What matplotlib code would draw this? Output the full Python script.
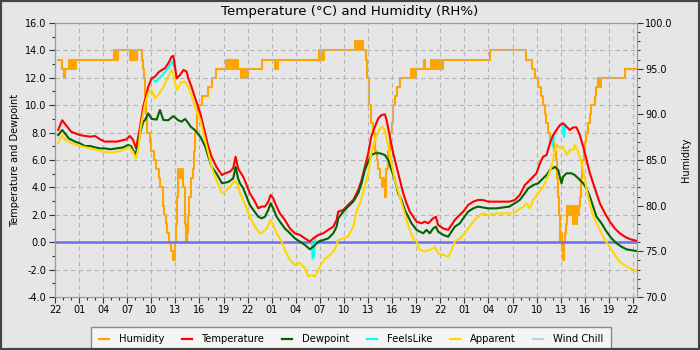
import matplotlib
matplotlib.use("Agg")
import matplotlib.pyplot as plt
from matplotlib.ticker import MultipleLocator, FormatStrFormatter
from matplotlib.patches import Rectangle
from matplotlib.lines import Line2D
import numpy as np

# x axis is hours since 22:00 on the first day
hour_ticks = list(range(0, 73, 3))
hour_labels = ["22", "01", "04", "07", "10", "13", "16", "19"] * 3 + ["22"]

temp_hours = [0.4, 0.9, 1.3, 2.0, 3.1, 3.8, 4.4, 5.0, 5.6, 6.2, 7.0, 7.7, 8.5, 8.9, 9.3, 9.7,
              10.1, 10.6, 11.0, 11.3, 11.62, 12.04, 12.45, 12.9, 13.3, 13.7, 14.1, 14.53, 14.74,
              14.95, 15.15, 15.57, 16.0, 16.4, 16.6, 17.0, 17.4, 18.1, 18.5, 19.1, 19.5, 20.1,
              20.8, 21.2, 21.8, 22.2, 22.5, 22.8, 23.04, 23.45, 23.87, 24.28, 24.9, 25.32, 25.74,
              26.15, 26.57, 26.86, 27.19, 27.6, 28.02, 28.64, 29.27, 29.89, 30.51, 31.13, 31.76,
              32.17, 32.8, 33.42, 34.04, 34.66, 35.08, 35.28, 35.9, 36.5, 37.15, 37.77, 38.19,
              38.6, 39.02, 39.4, 39.85, 40.27, 40.68, 41.1, 41.3, 41.72, 42.13, 42.55, 42.96,
              43.38, 43.79, 44.2, 44.62, 45.04, 45.66, 46.07, 46.49, 46.9, 47.1, 47.45, 47.73,
              48.36, 48.98, 49.4, 49.8, 50.2, 50.85, 51.47, 52.1, 52.7, 53.3, 53.96, 55.0, 55.8,
              56.6, 57.28, 57.9, 58.53, 58.95, 59.57, 59.98, 60.4, 60.8, 61.23, 61.64, 62.06,
              62.47, 62.9, 63.3, 63.72, 64.13, 64.55, 64.96, 65.38, 65.8, 66.21, 66.63, 67.04,
              67.46, 67.87, 68.5, 69.12, 69.74, 70.36, 70.99, 71.6, 72.35]
temp_c = [8.2, 8.9, 8.6, 8.07, 7.82, 7.75, 7.7, 7.75, 7.51, 7.34, 7.35, 7.34, 7.45, 7.51, 7.75, 7.5,
          6.85, 8.43, 9.9, 10.6, 11.35, 11.96, 12.08, 12.4, 12.57, 12.7, 13.05, 13.54, 13.6,
          12.8, 11.96, 12.2, 12.57, 12.45, 11.96, 11.35, 10.62, 9.4, 8.43, 6.97, 6.24, 5.51,
          4.9, 5.03, 5.15, 5.4, 6.24, 5.4, 5.15, 4.78, 4.17, 3.57, 2.96, 2.47, 2.6,
          2.6, 2.96, 3.45, 3.2, 2.6, 2.1, 1.62, 1.0, 0.65, 0.53, 0.28, 0.04,
          0.28, 0.53, 0.65, 0.9, 1.13, 1.62, 2.23, 2.35, 2.72, 3.08, 3.81, 4.54,
          5.51, 6.49, 7.7, 8.43, 9.04, 9.28, 9.33, 8.92, 7.7, 6.49, 5.51, 4.54,
          3.57, 2.84, 2.23, 1.86, 1.5, 1.38, 1.5, 1.38, 1.62, 1.74, 1.86, 1.26,
          1.0, 0.9, 1.26, 1.62, 1.86, 2.23, 2.72, 2.96, 3.08, 3.08, 2.96, 2.96, 2.96,
          2.96, 3.08, 3.45, 4.17, 4.42, 4.78, 5.03, 5.76, 6.24, 6.36, 7.2, 7.82,
          8.19, 8.55, 8.68, 8.43, 8.19, 8.38, 8.38, 7.82, 6.97, 6.0, 5.03, 4.3,
          3.57, 2.84, 2.11, 1.5, 1.0, 0.65, 0.4, 0.23, 0.11]

dew_hours = [0.4, 0.9, 1.3, 1.7, 2.1, 2.5, 3.1, 3.7, 4.4, 5.0, 5.6, 6.2, 6.9, 7.7, 8.5, 9.1, 9.5,
             10.0, 10.3, 10.6, 11.0, 11.2, 11.62, 12.04, 12.66, 13.07, 13.5, 14.1, 14.74, 15.36,
             15.77, 16.2, 16.6, 16.9, 17.4, 18.1, 18.7, 19.1, 19.5, 20.1, 20.8, 21.6, 22.2, 22.5,
             22.8, 23.04, 23.45, 23.87, 24.28, 24.9, 25.32, 25.74, 26.15, 26.57, 26.86, 27.19,
             27.6, 28.02, 28.64, 29.27, 29.89, 30.51, 31.13, 31.76, 32.17, 32.8, 33.42, 34.04,
             34.66, 35.08, 35.28, 35.9, 36.5, 37.15, 37.77, 38.19, 38.6, 39.02, 39.4, 39.85,
             40.5, 41.1, 41.51, 41.93, 42.34, 42.75, 43.17, 43.58, 44.0, 44.41, 45.04, 45.45,
             45.87, 46.28, 46.7, 47.1, 47.45, 47.73, 48.36, 48.98, 49.4, 49.8, 50.44, 50.85,
             51.47, 52.1, 52.7, 53.96, 55.0, 56.6, 57.28, 57.9, 58.53, 58.94, 59.57, 60.19,
             60.8, 61.23, 61.64, 62.27, 62.68, 63.1, 63.3, 63.72, 64.34, 64.76, 65.17, 65.8,
             66.21, 66.63, 67.04, 67.46, 68.08, 68.7, 69.33, 69.95, 70.57, 71.19, 72.35]
dew_c = [7.82, 8.19, 7.9, 7.58, 7.46, 7.34, 7.22, 7.02, 7.02, 6.92, 6.85, 6.85, 6.78, 6.85, 6.92, 7.1, 7.0,
         6.36, 7.0, 7.95, 8.8, 8.9, 9.4, 9.0, 8.95, 9.65, 8.92, 8.9, 9.2, 8.9,
         8.8, 9.0, 8.7, 8.43, 8.2, 7.7, 7.0, 6.24, 5.5, 5.03, 4.3, 4.4, 4.66, 5.5,
         4.66, 4.3, 3.93, 3.32, 2.7, 2.2, 1.86, 1.74, 1.86, 2.35, 2.84, 2.47,
         1.86, 1.5, 1.0, 0.65, 0.28, 0.04, -0.2, -0.52, -0.33, 0.04, 0.16, 0.28,
         0.65, 1.13, 1.74, 2.23, 2.6, 2.96, 3.57, 4.3, 5.27, 5.88, 6.36, 6.49,
         6.49, 6.36, 6.0, 5.27, 4.54, 3.57, 3.08, 2.35, 1.86, 1.38, 0.9, 0.77,
         0.65, 0.9, 0.65, 1.0, 1.13, 0.77, 0.53, 0.4, 0.77, 1.13, 1.38, 1.74,
         2.23, 2.47, 2.6, 2.47, 2.47, 2.6, 2.84, 3.08, 3.57, 3.93, 4.17, 4.3,
         4.66, 4.9, 5.27, 5.5, 5.27, 4.3, 4.78, 5.03, 5.03, 4.9, 4.66, 4.3,
         3.93, 3.32, 2.6, 1.86, 1.38, 0.77, 0.28, -0.08, -0.33, -0.52, -0.64]

app_hours = [0.4, 0.9, 1.3, 1.7, 2.1, 2.7, 3.5, 4.4, 5.2, 6.0, 6.9, 7.7, 8.5, 9.25, 9.7, 10.1, 10.4,
             10.7, 11.0, 11.21, 11.62, 12.04, 12.45, 12.87, 13.5, 14.1, 14.53, 14.74, 15.15, 15.77,
             16.2, 16.6, 17.0, 17.4, 18.1, 18.7, 19.1, 19.5, 20.1, 20.8, 21.4, 21.8, 22.4, 22.8,
             23.04, 23.45, 23.87, 24.28, 24.9, 25.53, 25.94, 26.36, 26.86, 27.19, 27.6, 28.23,
             28.64, 29.27, 29.89, 30.51, 31.13, 31.55, 31.97, 32.38, 33.0, 33.62, 34.25, 34.87,
             35.28, 35.9, 36.5, 37.15, 37.56, 37.98, 38.6, 39.02, 39.4, 39.85, 40.27, 40.68,
             41.1, 41.51, 41.93, 42.34, 42.96, 43.38, 43.79, 44.2, 44.62, 45.04, 45.45, 46.07,
             46.7, 47.1, 47.3, 47.73, 48.36, 48.98, 49.4, 49.8, 50.44, 50.85, 51.47, 52.1, 52.7,
             53.3, 53.96, 55.0, 57.08, 57.7, 58.3, 58.73, 58.94, 59.15, 59.57, 60.19, 60.8, 61.4,
             61.85, 62.27, 62.47, 62.9, 63.3, 63.72, 64.13, 64.55, 64.76, 65.17, 65.59, 66.0,
             66.42, 66.83, 67.25, 67.87, 68.5, 69.12, 69.74, 70.36, 70.99, 71.6, 72.35]
app_c = [7.22, 7.82, 7.46, 7.34, 7.22, 7.1, 6.97, 6.85, 6.73, 6.6, 6.53, 6.6, 6.73, 6.97, 6.6, 6.12, 6.9,
         8.43, 9.4, 10.1, 10.9, 11.1, 10.5, 10.74, 11.35, 12.08, 12.57, 12.3, 11.1, 11.7,
         11.7, 11.35, 10.74, 9.9, 8.9, 7.46, 6.5, 5.5, 4.54, 3.57, 3.8, 4.05, 4.5, 4.2,
         3.57, 3.08, 2.47, 1.86, 1.13, 0.65, 0.77, 1.0, 1.62, 1.26, 0.65, 0.04,
         -0.57, -1.3, -1.66, -1.54, -1.9, -2.5, -2.4, -2.5, -1.8, -1.2, -0.93, -0.5,
         0.16, 0.28, 0.4, 1.13, 2.23, 2.84, 4.05, 5.03, 6.49, 7.46, 8.07, 8.43,
         8.19, 6.97, 5.76, 4.54, 3.32, 2.47, 1.62, 0.9, 0.28, 0.04, -0.57, -0.67,
         -0.57, -0.45, -0.33, -0.81, -0.93, -1.06, -0.57, 0.04, 0.28, 0.53, 1.0, 1.5, 1.86,
         2.1, 1.99, 2.1, 2.1, 2.35, 2.6, 2.84, 2.7, 2.47, 3.08, 3.57, 4.05, 4.78,
         5.51, 6.73, 7.09, 6.85, 6.97, 6.36, 6.73, 6.73, 7.09, 6.6, 5.76, 4.54,
         3.32, 2.35, 1.62, 0.9, 0.16, -0.33, -0.93, -1.42, -1.7, -1.9, -2.08]

# feels-like only departs from the air temperature in a few short spells
feels_hours = [12.2, 12.6, 13.0, 13.4, 13.8, 14.2, 14.6, 14.9, np.nan,
               31.8, 32.0, 32.1, 32.25, 32.4, np.nan,
               61.8, 62.0, 62.2, np.nan, 63.2, 63.4, 63.55]
feels_c = [11.9, 11.7, 12.0, 12.2, 12.5, 12.8, 13.2, 12.7, np.nan,
           0.1, 0.0, -1.2, -1.0, 0.2, np.nan,
           7.6, 7.0, 7.9, np.nan, 8.6, 7.7, 8.5]

chill_hours = [35.9, 36.1, 36.3, np.nan, 59.2, 59.4, 59.6]
chill_c = [2.2, 1.8, 2.3, np.nan, 4.6, 4.4, 4.8]

hum_hours = [0.35, 0.83, 1.1, 1.25, 1.78, 1.95, 2.1, 2.25, 2.4, 2.5, 2.6,
             7.35, 7.5, 7.65, 7.8, 7.9, 9.34, 9.5, 9.65, 9.8, 9.95, 10.17,
             10.85, 10.95, 11.05, 11.15, 11.25, 11.35, 11.45, 11.6, 11.8, 12.0, 12.3, 12.6,
             12.9, 13.1, 13.4, 13.6, 13.8, 14.0, 14.2, 14.45, 14.7, 14.95, 15.1, 15.25,
             15.36, 15.6, 15.8, 16.0, 16.15, 16.3, 16.5, 16.6, 16.75, 17.0, 17.2, 17.35,
             17.5, 17.7, 17.85, 18.3, 19.0, 19.5, 20.1, 21.3, 21.45, 21.6, 21.75, 21.9,
             22.1, 22.3, 22.5, 22.65, 22.8, 23.2, 23.35, 23.5, 23.65, 23.8, 24.0, 25.8,
             27.36, 27.5, 27.65, 27.8, 28.0, 32.9, 33.05, 33.2, 33.35, 33.5,
             37.36, 37.5, 37.65, 37.8, 37.95, 38.1, 38.25, 38.4, 38.7, 38.9, 39.15, 39.36,
             39.57, 39.85, 40.06, 40.27, 40.48, 40.68, 40.9, 41.0, 41.1, 41.25, 41.5, 41.72,
             41.93, 42.13, 42.34, 42.55, 42.96, 44.4, 44.5, 44.6, 44.7, 44.8, 44.9, 45.0,
             46.0, 46.15, 46.9, 47.0, 47.1, 47.25, 47.4, 47.55, 47.7, 47.9, 48.05, 48.2,
             48.35, 54.25, 58.7, 59.4, 59.8, 60.2, 60.5, 60.8, 61.0, 61.2, 61.4, 61.7, 62.1,
             62.4, 62.55, 62.65, 62.75, 62.85, 62.95, 63.1, 63.25, 63.4, 63.55, 63.7, 63.8,
             63.95, 64.05, 64.2, 64.35, 64.5, 64.6, 64.8, 64.9, 65.0, 65.15, 65.3, 65.38,
             65.5, 65.67, 65.84, 66.0, 66.2, 66.4, 66.62, 66.8, 67.25, 67.45, 67.6, 67.7,
             67.8, 67.9, 68.0, 70.98, 72.35]
hum_pct = [96, 95, 94, 95, 96, 95, 96, 95, 96, 95, 96,
           97, 96, 97, 96, 97, 96, 97, 96, 97, 96, 97,
           96, 95, 94, 93, 92, 90, 88, 88, 87, 86, 85, 84,
           83, 82, 80, 79, 78, 77, 76, 75, 74, 76, 78, 81,
           84, 83, 84, 82, 78, 76, 77, 79, 81, 83, 84, 86,
           88, 90, 91, 92, 93, 94, 95, 96, 95, 96, 95, 96,
           95, 96, 95, 96, 95, 94, 95, 94, 95, 94, 95, 96,
           95, 96, 95, 96, 96, 97, 96, 97, 96, 97,
           98, 97, 98, 97, 98, 97, 98, 97, 96, 94, 91, 89,
           88, 86, 85, 84, 83, 82, 83, 82, 81, 84, 86, 88,
           89, 91, 92, 93, 94, 95, 94, 95, 94, 95, 94, 95,
           96, 95, 96, 95, 96, 95, 96, 95, 96, 95, 96, 95,
           96, 97, 96, 95, 94, 93, 92, 91, 90, 89, 88, 87, 86,
           85, 83, 81, 79, 76, 77, 75, 74, 76, 77, 78, 80,
           79, 80, 79, 80, 78, 80, 79, 78, 80, 79, 80, 81,
           83, 85, 86, 87, 88, 89, 90, 91, 92, 93, 94, 93,
           94, 93, 94, 95, 95]

bg = "#e6e6e6"
fig = plt.figure(figsize=(7, 3.5), dpi=100, facecolor=bg)
ax = fig.add_axes([55 / 700, 53 / 350, 582 / 700, 274 / 350])
ax2 = ax.twinx()
# humidity sits underneath the temperature traces
ax.set_zorder(ax2.get_zorder() + 1)
ax.patch.set_visible(False)
ax2.patch.set_facecolor(bg)

ax2.step(hum_hours, hum_pct, where="post", color="#ffa500", lw=1.5)
ax.axhline(0, color="#6e6ee8", lw=1.8, zorder=2)
ax.plot(chill_hours, chill_c, color="#add8e6", lw=1.5, zorder=2.5)
ax.plot(feels_hours, feels_c, color="#00ffff", lw=1.5, zorder=2.5)
ax.plot(temp_hours, temp_c, color="#ff0000", lw=1.5, zorder=3)
ax.plot(dew_hours, dew_c, color="#006400", lw=1.5, zorder=3)
ax.plot(app_hours, app_c, color="#ffd700", lw=1.5, zorder=3)

ax.set_xlim(0, 72.5)
ax.set_ylim(-4, 16)
ax2.set_ylim(70, 100)
ax.set_xticks(hour_ticks)
ax.set_xticklabels(hour_labels)
ax.xaxis.set_minor_locator(MultipleLocator(1))
ax.yaxis.set_major_locator(MultipleLocator(2))
ax.yaxis.set_minor_locator(MultipleLocator(1))
ax.yaxis.set_major_formatter(FormatStrFormatter("%.1f"))
ax2.yaxis.set_major_locator(MultipleLocator(5))
ax2.yaxis.set_minor_locator(MultipleLocator(1))
ax2.yaxis.set_major_formatter(FormatStrFormatter("%.1f"))
ax.grid(True, which="major", color="#b4b4b4", ls=(0, (4, 3)), lw=0.8)

for a in (ax, ax2):
    a.tick_params(which="major", length=4, width=0.8, color="#333333", labelsize=7, pad=2)
    a.tick_params(which="minor", length=2, width=0.8, color="#333333")
    for s in a.spines.values():
        s.set_color("#9a9a9a")

ax.set_ylabel("Temperature and Dewpoint", fontsize=7, labelpad=4)
ax2.set_ylabel("Humidity", fontsize=7, labelpad=6)
fig.text(0.5, 1 - 11 / 350, "Temperature (°C) and Humidity (RH%)",
         ha="center", va="center", fontsize=9.6)

names = ["Humidity", "Temperature", "Dewpoint", "FeelsLike", "Apparent", "Wind Chill"]
colors = ["#ffa500", "#ff0000", "#006400", "#00ffff", "#ffd700", "#add8e6"]
handles = [Line2D([], [], color=c, lw=1.6) for c in colors]
leg = fig.legend(handles, names, loc="upper center", bbox_to_anchor=(351 / 700, 1 - 322 / 350),
                 ncol=6, fontsize=7.2, frameon=True, fancybox=False, edgecolor="#8a8a8a",
                 facecolor="#f5f5f5", framealpha=1, handlelength=1.0, handletextpad=1.0,
                 columnspacing=1.75, borderpad=0.75)
leg.get_frame().set_linewidth(1.0)

fig.patches.append(Rectangle((0, 0), 1, 1, transform=fig.transFigure, fill=False,
                             edgecolor="#444444", lw=3, zorder=10))

fig.savefig("out.png", dpi=100, facecolor=bg)
